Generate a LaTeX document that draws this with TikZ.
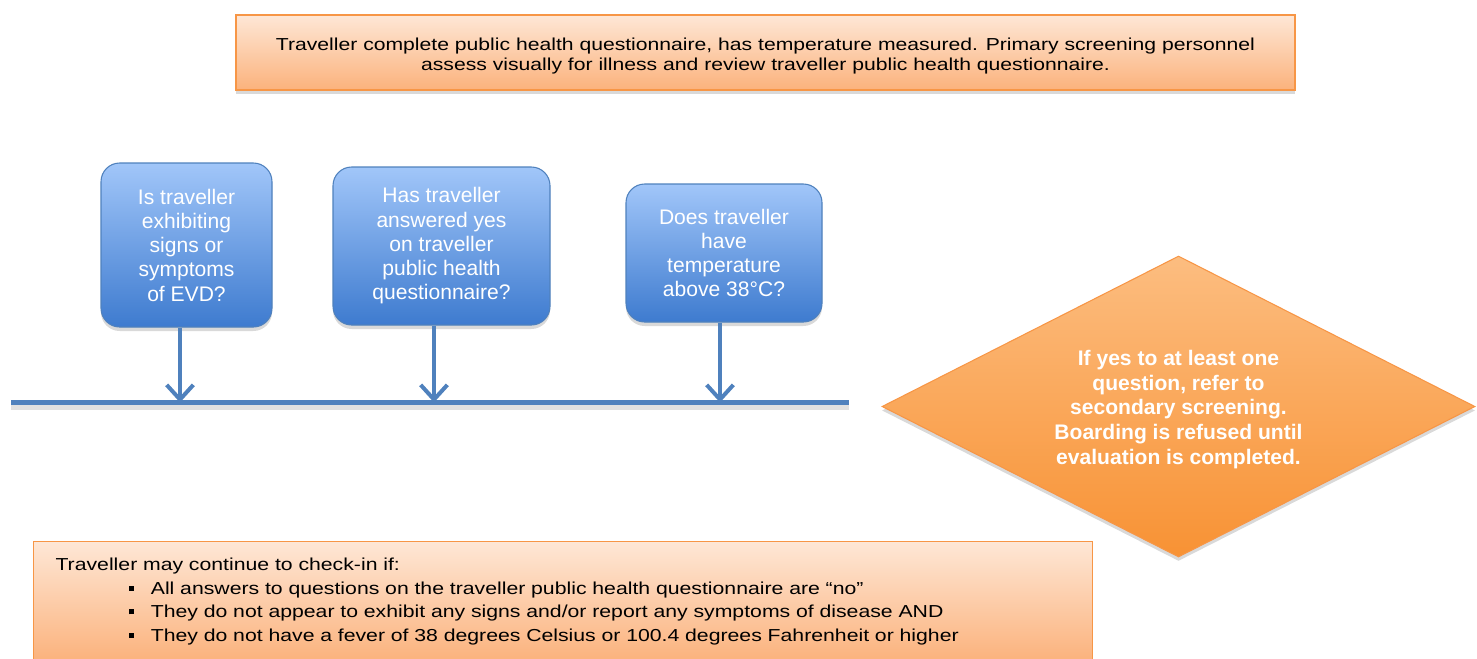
\documentclass[tikz,border=0pt]{standalone}
\usepackage{fontspec}
\setmainfont{Liberation Sans}
\newfontfamily\widesans[FakeStretch=1.22]{Liberation Sans}
\newfontfamily\listsans[FakeStretch=1.225]{Liberation Sans}
\usetikzlibrary{shapes.geometric,shadows,arrows.meta,positioning}

\definecolor{orangeline}{HTML}{F79646}
\definecolor{peachtop}{HTML}{FEE7D6}
\definecolor{peachbot}{HTML}{FBB27C}
\definecolor{diamtop}{HTML}{FCBD80}
\definecolor{diambot}{HTML}{F89234}
\definecolor{bluetop}{HTML}{A1C6F9}
\definecolor{bluebot}{HTML}{3E7BCF}
\definecolor{blueline}{HTML}{4F81BD}

\tikzset{
  softshadow/.style={drop shadow={opacity=0.3, shadow xshift=0pt, shadow yshift=-3pt}},
  infobox/.style={draw=orangeline, line width=0.8pt, top color=peachtop, bottom color=peachbot,
    softshadow, inner sep=0pt},
  question/.style={draw=blueline, line width=0.8pt, rounded corners=14pt, top color=bluetop,
    bottom color=bluebot, softshadow, text=white, align=center, inner sep=0pt,
    font=\fontsize{15.8}{18.2}\selectfont},
  decision/.style={diamond, aspect=2, draw=orangeline, line width=0.8pt, top color=diamtop,
    bottom color=diambot, softshadow, text=white, align=center, inner sep=0pt,
    font=\bfseries\fontsize{15.8}{18.4}\selectfont},
  flow/.style={blueline, line width=3pt, -{Straight Barb[length=11pt,width=20pt]}},
  bar/.style={blueline, line width=3.6pt,
    preaction={draw=black, opacity=0.12, line width=4.5pt, transform canvas={yshift=-3pt}}}
}
\newcommand{\sqbullet}{\hspace*{54.75pt}\raisebox{2.5pt}{\rule{4pt}{4pt}}\hspace{12.75pt}}

\begin{document}
\begin{tikzpicture}[x=0.75pt,y=-0.75pt]
\useasboundingbox (0,0) rectangle (1477,658);

% first step
\node[infobox, minimum width=794.25pt, minimum height=56.25pt, align=center,
  font=\widesans\fontsize{13}{15}\selectfont] (screen) at (765.5,52.5)
  {\rule{0pt}{14pt}Traveller complete public health questionnaire, has temperature measured. Primary screening personnel\\
   assess visually for illness and review traveller public health questionnaire.};

% the three questions
\node[question, minimum width=128.25pt, minimum height=123pt] (q1) at (186.5,245)
  {Is traveller\\exhibiting\\signs or\\symptoms\\of EVD?};
\node[question, minimum width=162.75pt, minimum height=118.5pt] (q2) at (441.5,246)
  {Has traveller\\answered yes\\on traveller\\public health\\questionnaire?};
\node[question, minimum width=147pt, minimum height=103.5pt] (q3) at (724,253)
  {Does traveller\\have\\temperature\\above 38°C?};

% collecting line
\coordinate (barL) at (11,402.5);
\coordinate (barR) at (849,402.5);
\draw[bar] (barL) -- (barR);

\draw[flow] (q1.south -| 180,0) -- (barL -| 180,0);
\draw[flow] (q2.south -| 434,0) -- (barL -| 434,0);
\draw[flow] (q3.south -| 720,0) -- (barL -| 720,0);

% referral
\node[decision, minimum width=444.75pt, minimum height=225.75pt] (refer) at (1178.5,406.5)
  {\rule{0pt}{16pt}If yes to at least one\\question, refer to\\secondary screening.\\Boarding is refused until\\evaluation is completed.};

% continue to check-in
\node[infobox, anchor=north west, align=left, text width=761.25pt, inner xsep=16.5pt, inner ysep=12.5pt,
  font=\listsans\fontsize{13}{17.6}\selectfont] (checkin) at (33,541)
  {Traveller may continue to check-in if:\\
   \sqbullet All answers to questions on the traveller public health questionnaire are “no”\\
   \sqbullet They do not appear to exhibit any signs and/or report any symptoms of disease AND\\
   \sqbullet They do not have a fever of 38 degrees Celsius or 100.4 degrees Fahrenheit or higher};

\end{tikzpicture}
\end{document}
